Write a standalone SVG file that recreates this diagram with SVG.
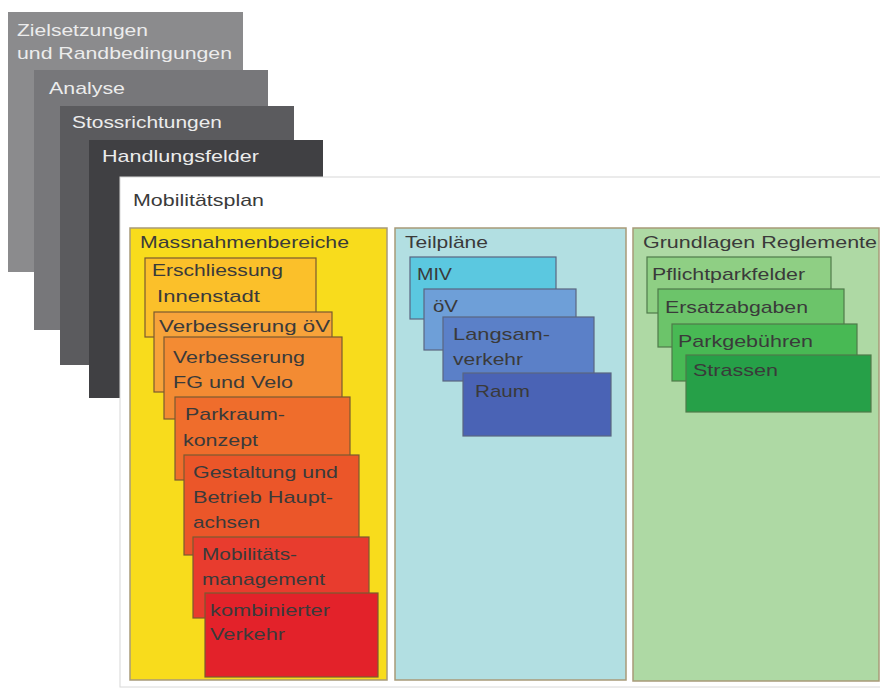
<svg xmlns="http://www.w3.org/2000/svg" width="880" height="689" viewBox="0 0 880 689">
<style>
text{font-family:"Liberation Sans",Arial,sans-serif;font-size:17px}
.lt{fill:#ececec}
.dk{fill:#3a3a3a}
.col{stroke:#a89a78;stroke-width:1.5}
.bx{stroke:#7a5a30;stroke-width:1.2}
.bb{stroke:#5a6680;stroke-width:1.2}
.gb{stroke:#4f7a4a;stroke-width:1.2}
</style>
<rect width="880" height="689" fill="#ffffff"/>
<g id="zielsetzungen"><rect x="8" y="12" width="235" height="260" fill="#8b8b8d"/>
<text class="lt" x="17" y="36" textLength="131" lengthAdjust="spacingAndGlyphs">Zielsetzungen</text>
<text class="lt" x="17" y="59" textLength="215" lengthAdjust="spacingAndGlyphs">und Randbedingungen</text></g>
<g id="analyse"><rect x="34" y="70" width="234" height="260" fill="#77777a"/>
<text class="lt" x="49" y="94" textLength="76" lengthAdjust="spacingAndGlyphs">Analyse</text></g>
<g id="stossrichtungen"><rect x="60" y="106" width="234" height="259" fill="#5b5b5e"/>
<text class="lt" x="72" y="128" textLength="150" lengthAdjust="spacingAndGlyphs">Stossrichtungen</text></g>
<g id="handlungsfelder"><rect x="89" y="140" width="234" height="258" fill="#404043"/>
<text class="lt" x="102" y="162" textLength="157" lengthAdjust="spacingAndGlyphs">Handlungsfelder</text></g>
<g id="mobilitaetsplan"><rect x="120" y="177" width="762" height="510" fill="#ffffff" stroke="#d8d8d8" stroke-width="1"/>
<text class="dk" x="133" y="206" textLength="131" lengthAdjust="spacingAndGlyphs">Mobilitätsplan</text></g>

<g id="massnahmenbereiche"><rect class="col" x="130" y="228" width="257" height="452" fill="#f8dc1c"/>
<text class="dk" x="140" y="248" textLength="209" lengthAdjust="spacingAndGlyphs">Massnahmenbereiche</text></g>
<g id="erschliessung"><rect class="bx" x="145" y="258" width="171" height="79" fill="#fbc02a"/>
<text class="dk" x="152" y="276" textLength="131" lengthAdjust="spacingAndGlyphs">Erschliessung</text>
<text class="dk" x="157" y="302" textLength="103" lengthAdjust="spacingAndGlyphs">Innenstadt</text></g>
<g id="verbesserung-ov"><rect class="bx" x="154" y="312" width="178" height="80" fill="#f7a33a"/>
<text class="dk" x="159" y="332" textLength="171" lengthAdjust="spacingAndGlyphs">Verbesserung öV</text></g>
<g id="verbesserung-fg"><rect class="bx" x="164" y="337" width="178" height="82" fill="#f38b33"/>
<text class="dk" x="173" y="363" textLength="132" lengthAdjust="spacingAndGlyphs">Verbesserung</text>
<text class="dk" x="173" y="388" textLength="120" lengthAdjust="spacingAndGlyphs">FG und Velo</text></g>
<g id="parkraum"><rect class="bx" x="175" y="397" width="175" height="83" fill="#ef6d2c"/>
<text class="dk" x="185" y="420" textLength="100" lengthAdjust="spacingAndGlyphs">Parkraum-</text>
<text class="dk" x="183" y="446" textLength="75" lengthAdjust="spacingAndGlyphs">konzept</text></g>
<g id="gestaltung"><rect class="bx" x="184" y="455" width="175" height="100" fill="#eb5629"/>
<text class="dk" x="193" y="478" textLength="145" lengthAdjust="spacingAndGlyphs">Gestaltung und</text>
<text class="dk" x="193" y="503" textLength="140" lengthAdjust="spacingAndGlyphs">Betrieb Haupt-</text>
<text class="dk" x="193" y="528" textLength="67" lengthAdjust="spacingAndGlyphs">achsen</text></g>
<g id="mobilitaetsmanagement"><rect class="bx" x="193" y="537" width="176" height="81" fill="#e83c2e"/>
<text class="dk" x="202" y="560" textLength="95" lengthAdjust="spacingAndGlyphs">Mobilitäts-</text>
<text class="dk" x="202" y="585" textLength="123" lengthAdjust="spacingAndGlyphs">management</text></g>
<g id="kombinierter-verkehr"><rect class="bx" x="205" y="593" width="173" height="84" fill="#e3222a"/>
<text class="dk" x="210" y="616" textLength="120" lengthAdjust="spacingAndGlyphs">kombinierter</text>
<text class="dk" x="210" y="640" textLength="75" lengthAdjust="spacingAndGlyphs">Verkehr</text></g>

<g id="teilplaene"><rect class="col" x="395" y="228" width="231" height="452" fill="#b2dfe2"/>
<text class="dk" x="405" y="248" textLength="83" lengthAdjust="spacingAndGlyphs">Teilpläne</text></g>
<g id="miv"><rect class="bb" x="410" y="257" width="146" height="62" fill="#5bc8e0"/>
<text class="dk" x="417" y="280" textLength="35" lengthAdjust="spacingAndGlyphs">MIV</text></g>
<g id="ov"><rect class="bb" x="424" y="289" width="152" height="61" fill="#6e9fd8"/>
<text class="dk" x="433" y="312" textLength="25" lengthAdjust="spacingAndGlyphs">öV</text></g>
<g id="langsamverkehr"><rect class="bb" x="443" y="317" width="151" height="64" fill="#5b80c8"/>
<text class="dk" x="453" y="340" textLength="97" lengthAdjust="spacingAndGlyphs">Langsam-</text>
<text class="dk" x="453" y="365" textLength="70" lengthAdjust="spacingAndGlyphs">verkehr</text></g>
<g id="raum"><rect class="bb" x="463" y="373" width="148" height="63" fill="#4a63b5"/>
<text class="dk" x="475" y="397" textLength="55" lengthAdjust="spacingAndGlyphs">Raum</text></g>

<g id="grundlagen"><rect class="col" x="633" y="228" width="246" height="453" fill="#aed9a4"/>
<text class="dk" x="643" y="248" textLength="234" lengthAdjust="spacingAndGlyphs">Grundlagen Reglemente</text></g>
<g id="pflichtparkfelder"><rect class="gb" x="647" y="257" width="184" height="56" fill="#8fcf84"/>
<text class="dk" x="652" y="280" textLength="153" lengthAdjust="spacingAndGlyphs">Pflichtparkfelder</text></g>
<g id="ersatzabgaben"><rect class="gb" x="658" y="289" width="186" height="58" fill="#6cc46a"/>
<text class="dk" x="665" y="313" textLength="143" lengthAdjust="spacingAndGlyphs">Ersatzabgaben</text></g>
<g id="parkgebuehren"><rect class="gb" x="672" y="324" width="185" height="57" fill="#48b954"/>
<text class="dk" x="678" y="347" textLength="135" lengthAdjust="spacingAndGlyphs">Parkgebühren</text></g>
<g id="strassen"><rect class="gb" x="686" y="355" width="185" height="57" fill="#26a048"/>
<text class="dk" x="693" y="376" textLength="85" lengthAdjust="spacingAndGlyphs">Strassen</text></g>
<g id="connectors"></g>
</svg>
